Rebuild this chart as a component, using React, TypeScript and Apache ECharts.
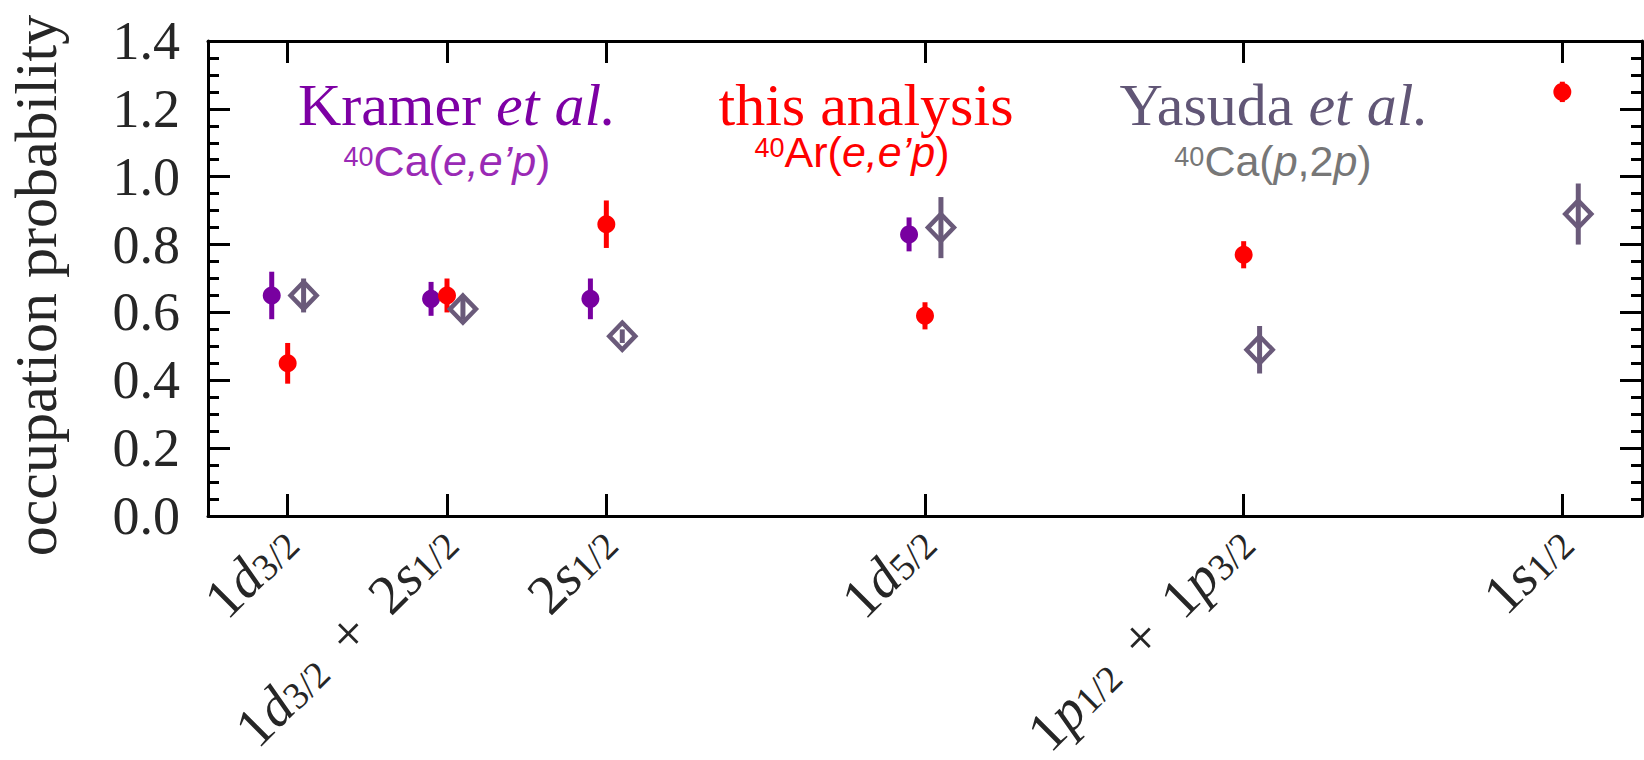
import React, { useEffect, useRef } from 'react';
import * as echarts from 'echarts';

const categories = ['1d3/2', '1d3/2 + 2s1/2', '2s1/2', '1d5/2', '1p1/2 + 1p3/2', '1s1/2'];
const positions = [1, 2, 3, 5, 7, 9];
const kramerValues = [0.65, 0.64, 0.64, 0.83, null, null];
const kramerErrors = [0.07, 0.05, 0.06, 0.05, null, null];
const thisValues = [0.45, 0.65, 0.86, 0.59, 0.77, 1.25];
const thisErrors = [0.06, 0.05, 0.07, 0.04, 0.04, 0.03];
const yasudaValues = [0.65, 0.61, 0.53, 0.85, 0.49, 0.89];
const yasudaErrors = [0.05, 0.03, 0.02, 0.09, 0.07, 0.09];

const SERIF = '"Liberation Serif", "DejaVu Serif", serif';
const SANS = '"Liberation Sans", Arial, sans-serif';
const PURPLE = '#7800a0';
const RED = '#ff0000';
const GREY = '#6a5a7a';
const INK = '#262626';

function toRich(s: string): string {
  return s
    .split(/([a-z]\d\/\d| \+ )/)
    .filter((p) => p.length > 0)
    .map((p) => {
      if (/^[a-z]\d\/\d$/.test(p)) return `{i|${p[0]}}{s|${p.slice(1)}}`;
      if (p === ' + ') return '{p|+}';
      return `{n|${p}}`;
    })
    .join('');
}

function points(values: (number | null)[], errs: (number | null)[], offset: number) {
  const out: number[][] = [];
  values.forEach((v, i) => {
    if (v !== null) out.push([positions[i] + offset, v, errs[i] as number]);
  });
  return out;
}

function errorBars(data: number[][], color: string) {
  return {
    type: 'custom',
    data,
    encode: { x: 0, y: 1 },
    silent: true,
    z: 1,
    renderItem: (params: any, api: any) => {
      const x = api.value(0);
      const y = api.value(1);
      const e = api.value(2);
      const a = api.coord([x, y + e]);
      const b = api.coord([x, y - e]);
      return {
        type: 'line',
        shape: { x1: a[0], y1: a[1], x2: b[0], y2: b[1] },
        style: { stroke: color, lineWidth: 5 },
      };
    },
  };
}

export default function App() {
  const ref = useRef<HTMLDivElement>(null);
  useEffect(() => {
    if (!ref.current) return;
    const chart = echarts.init(ref.current, undefined, { renderer: 'svg' });
    const kramer = points(kramerValues, kramerErrors, -0.1);
    const ours = points(thisValues, thisErrors, 0);
    const yasuda = points(yasudaValues, yasudaErrors, 0.1);

    const richLabel = {
      n: { fontFamily: SERIF, fontSize: 56, color: INK, lineHeight: 52 },
      i: { fontFamily: SERIF, fontSize: 56, fontStyle: 'italic', color: INK, lineHeight: 52 },
      p: { fontFamily: SERIF, fontSize: 56, color: INK, lineHeight: 52, padding: [0, 26, 0, 26] },
      s: { fontFamily: SERIF, fontSize: 38, color: INK, lineHeight: 28, verticalAlign: 'bottom' },
    };

    const yCommon = {
      type: 'value',
      min: 0,
      max: 1.4,
      interval: 0.2,
      splitLine: { show: false },
      axisLine: { show: true, lineStyle: { color: '#000', width: 3 } },
      axisTick: { show: true, inside: true, length: 22, lineStyle: { color: '#000', width: 3 } },
      minorTick: { show: true, splitNumber: 4, length: 11, lineStyle: { color: '#000', width: 3 } },
      minorSplitLine: { show: false },
    };

    const xCommon = {
      type: 'value',
      min: 0.5,
      max: 9.5,
      splitLine: { show: false },
      axisLine: { show: true, onZero: false, lineStyle: { color: '#000', width: 3 } },
      axisTick: {
        show: true,
        inside: true,
        length: 22,
        customValues: positions,
        lineStyle: { color: '#000', width: 3 },
      },
    };

    const subRich = (color: string) => ({
      sup: { fontFamily: SANS, fontSize: 27, fill: color, lineHeight: 27, verticalAlign: 'top' },
      n: { fontFamily: SANS, fontSize: 43, fill: color, lineHeight: 36 },
      i: { fontFamily: SANS, fontSize: 43, fontStyle: 'italic', fill: color, lineHeight: 36 },
    });
    const titleRich = (color: string) => ({
      n: { fontFamily: SERIF, fontSize: 60, fill: color, lineHeight: 48 },
      i: { fontFamily: SERIF, fontSize: 60, fontStyle: 'italic', fill: color, lineHeight: 48 },
    });
    const txt = (x: number, y: number, text: string, rich: any) => ({
      type: 'text',
      x,
      y,
      silent: true,
      style: {
        text,
        rich,
        align: 'center',
        verticalAlign: 'middle',
        textAlign: 'center',
        textVerticalAlign: 'middle',
      },
    });

    chart.setOption({
      animation: false,
      backgroundColor: '#ffffff',
      grid: {
        left: 208,
        top: 41,
        right: 2,
        bottom: 244,
        containLabel: false,
        outerBoundsMode: 'none',
      },
      xAxis: [
        {
          ...xCommon,
          position: 'bottom',
          axisLabel: {
            show: true,
            rotate: 45,
            margin: 18,
            customValues: positions,
            formatter: (v: number) => {
              const idx = positions.findIndex((p) => Math.abs(p - v) < 1e-6);
              return idx >= 0 ? toRich(categories[idx]) : '';
            },
            rich: richLabel,
          },
        },
        { ...xCommon, position: 'top', axisLabel: { show: false } },
      ],
      yAxis: [
        {
          ...yCommon,
          position: 'left',
          name: 'occupation probability',
          nameLocation: 'middle',
          nameGap: 142,
          nameTextStyle: { fontFamily: SERIF, fontSize: 60, color: INK, padding: [0, 14, 0, 0] },
          axisLabel: {
            show: true,
            margin: 28,
            fontFamily: SERIF,
            fontSize: 54,
            color: INK,
            formatter: (v: number) => v.toFixed(1),
          },
        },
        { ...yCommon, position: 'right', axisLabel: { show: false } },
      ],
      series: [
        errorBars(kramer, PURPLE),
        errorBars(ours, RED),
        errorBars(yasuda, GREY),
        {
          type: 'scatter',
          name: 'Kramer et al.',
          data: kramer,
          symbol: 'circle',
          symbolSize: 18,
          itemStyle: { color: PURPLE, opacity: 1 },
          z: 3,
        },
        {
          type: 'scatter',
          name: 'this analysis',
          data: ours,
          symbol: 'circle',
          symbolSize: 18,
          itemStyle: { color: RED, opacity: 1 },
          z: 3,
        },
        {
          type: 'scatter',
          name: 'Yasuda et al.',
          data: yasuda,
          symbol: 'diamond',
          symbolSize: [26, 27],
          itemStyle: { color: 'rgba(0,0,0,0)', borderColor: GREY, borderWidth: 4.5, opacity: 1 },
          z: 3,
        },
      ],
      graphic: [
        txt(457, 105, '{n|Kramer }{i|et al.}', titleRich('#7d00a4')),
        txt(447, 161, '{sup|40}{n|Ca(}{i|e,e’p}{n|)}', subRich('#9a2ab5')),
        txt(866, 105, '{n|this analysis}', titleRich('#ff0000')),
        txt(852, 152, '{sup|40}{n|Ar(}{i|e,e’p}{n|)}', subRich('#ff0000')),
        txt(1274, 105, '{n|Yasuda }{i|et al.}', titleRich('#615676')),
        txt(1273, 161, '{sup|40}{n|Ca(}{i|p}{n|,2}{i|p}{n|)}', subRich('#777777')),
      ],
    });
    return () => chart.dispose();
  }, []);
  return (
    <div
      ref={ref}
      style={{ position: 'fixed', left: 0, top: 0, width: 1644, height: 760, background: '#fff' }}
    />
  );
}
